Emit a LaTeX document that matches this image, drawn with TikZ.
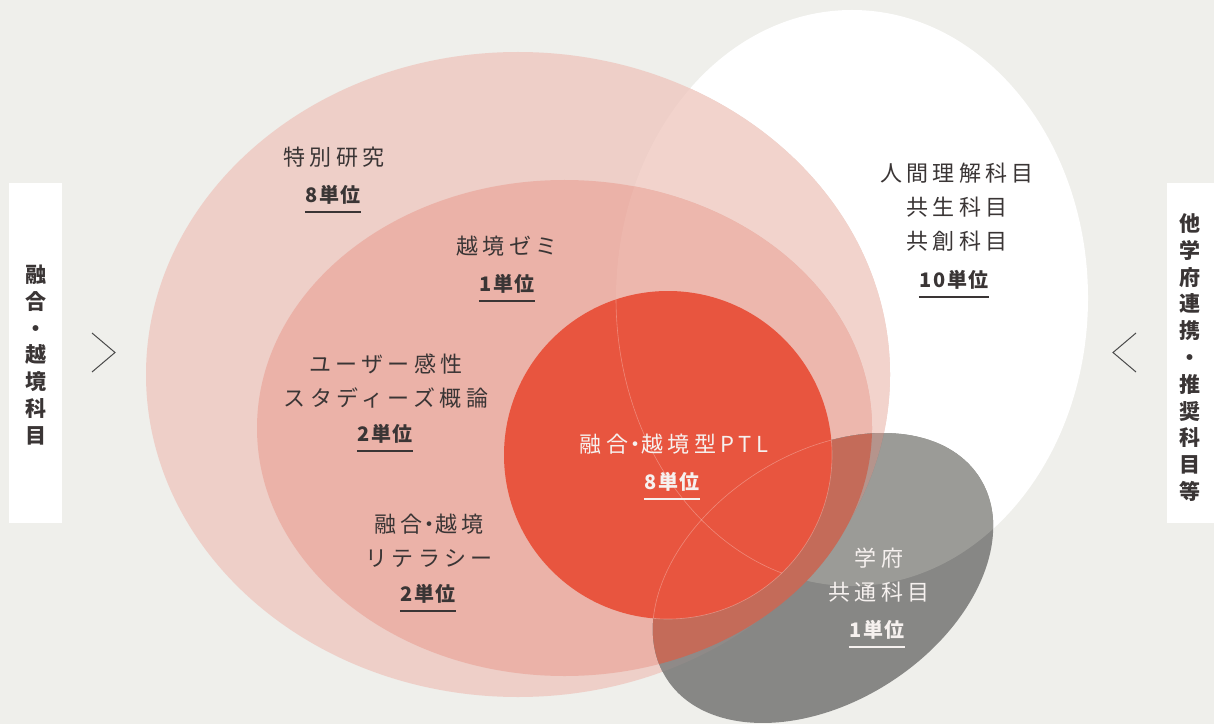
\documentclass[tikz,border=0pt]{standalone}
\usepackage{fontspec}
\setmainfont{Noto Sans CJK JP}
\definecolor{bgc}{HTML}{EFEFEB}
\definecolor{pA}{HTML}{EECFC8}
\definecolor{pAW}{HTML}{F2D3CC}
\definecolor{pB}{HTML}{EBB2A8}
\definecolor{pBW}{HTML}{EDB7AD}
\definecolor{redc}{HTML}{E8553F}
\definecolor{gD}{HTML}{878785}
\definecolor{gW}{HTML}{9B9B97}
\definecolor{gPA}{HTML}{8F8A88}
\definecolor{gPAW}{HTML}{B5948C}
\definecolor{gPB}{HTML}{C46B59}
\definecolor{txt}{HTML}{3A3535}
\definecolor{wtxt}{HTML}{F6F1EF}
\definecolor{chevc}{HTML}{4A4A4A}
\def\shpW{(852,426) ellipse [x radius=236, y radius=288]}
\def\shpPA{(518,349.5) ellipse [x radius=372, y radius=322.5]}
\def\shpPB{(564.5,296) ellipse [x radius=307.5, y radius=248]}
\def\shpR{(668,269) circle [radius=164]}
\def\shpG{(823,146) ellipse [x radius=186, y radius=124, rotate=32.8]}
\def\nkg{\makebox[0.6em][c]{・}}
\begin{document}
\begin{tikzpicture}[x=1pt,y=1pt,
  lbl/.style={font=\fontsize{22}{34}\selectfont\addfontfeature{LetterSpace=20}, text=txt, align=center, inner sep=0pt},
  unit/.style={font=\bfseries\fontsize{20}{24}\selectfont\addfontfeature{LetterSpace=9}, text=txt, inner sep=0pt},
  uline/.style={draw=txt, line width=1.2pt},
  wuline/.style={draw=wtxt, line width=1.2pt},
  side/.style={font=\bfseries\fontsize{21}{26.8}\selectfont, text=txt, align=center, inner sep=0pt},
  panel/.style={fill=white, draw=none},
  chev/.style={draw=chevc, line width=1pt},
  faint/.style={draw=white, opacity=0.3, line width=0.6pt}]
\useasboundingbox (0,0) rectangle (1214,724);
\fill[bgc] (0,0) rectangle (1214,724);
% white ellipse
\fill[white] \shpW;
% big pink
\fill[pA] \shpPA;
\begin{scope}\clip \shpW; \fill[pAW] \shpPA; \end{scope}
% inner pink
\fill[pB] \shpPB;
\begin{scope}\clip \shpW; \fill[pBW] \shpPB; \end{scope}
% gray ellipse
\fill[gD] \shpG;
\begin{scope}\clip \shpG; \fill[gW] \shpW; \end{scope}
\begin{scope}\clip \shpG; \fill[gPA] \shpPA; \end{scope}
\begin{scope}\clip \shpG; \clip \shpW; \fill[gPAW] \shpPA; \end{scope}
\begin{scope}\clip \shpG; \fill[gPB] \shpPB; \end{scope}
% red circle on top
\fill[redc] \shpR;
% faint outlines
\begin{scope}\clip \shpR; \draw[faint] \shpW; \draw[faint] \shpG; \end{scope}
\begin{scope}\clip \shpG; \draw[faint] \shpR; \end{scope}
% side panels
\fill[panel] (9,201) rectangle (62,541);
\fill[panel] (1167,201) rectangle (1214,541);
\node[side] (lside) at (35.5,369) {融\\合\\・\\越\\境\\科\\目};
\node[side] (rside) at (1190,366.5) {他\\学\\府\\連\\携\\・\\推\\奨\\科\\目\\等};
% chevrons
\coordinate (lc1) at (92,391); \coordinate (lc2) at (115,371.5); \coordinate (lc3) at (92,352);
\coordinate (rc1) at (1136,391); \coordinate (rc2) at (1113,371.5); \coordinate (rc3) at (1136,352);
\draw[chev] (lc1) -- (lc2) -- (lc3);
\draw[chev] (rc1) -- (rc2) -- (rc3);
% labels
\node[lbl] (tok) at (334,567) {特別研究};
\node[unit] (u1) at (333,529) {8単位};
\draw[uline] ([yshift=-17pt]u1.west) -- ([yshift=-17pt]u1.east);
\node[lbl] (zemi) at (507,478) {越境ゼミ};
\node[unit] (u2) at (507,440) {1単位};
\draw[uline] ([yshift=-17pt]u2.west) -- ([yshift=-17pt]u2.east);
\node[lbl] (user) at (386,342.5) {ユーザー感性\\スタディーズ概論};
\node[unit] (u3) at (385,290) {2単位};
\draw[uline] ([yshift=-17pt]u3.west) -- ([yshift=-17pt]u3.east);
\node[lbl] (lit) at (429,183.5) {融合\nkg 越境\\リテラシー};
\node[unit] (u4) at (428,130) {2単位};
\draw[uline] ([yshift=-17pt]u4.west) -- ([yshift=-17pt]u4.east);
\node[lbl, text=wtxt] (ptl) at (674,280) {融合\nkg 越境型PTL};
\node[unit, text=wtxt] (u5) at (672,242) {8単位};
\draw[wuline] ([yshift=-17pt]u5.west) -- ([yshift=-17pt]u5.east);
\node[lbl] (hum) at (957,516.7) {人間理解科目\\共生科目\\共創科目};
\node[unit] (u6) at (954,444) {10単位};
\draw[uline] ([yshift=-17pt]u6.west) -- ([yshift=-17pt]u6.east);
\node[lbl, text=wtxt] (gak) at (879,148.5) {学府\\共通科目};
\node[unit, text=wtxt] (u7) at (877,94) {1単位};
\draw[wuline] ([yshift=-17pt]u7.west) -- ([yshift=-17pt]u7.east);
\end{tikzpicture}
\end{document}
